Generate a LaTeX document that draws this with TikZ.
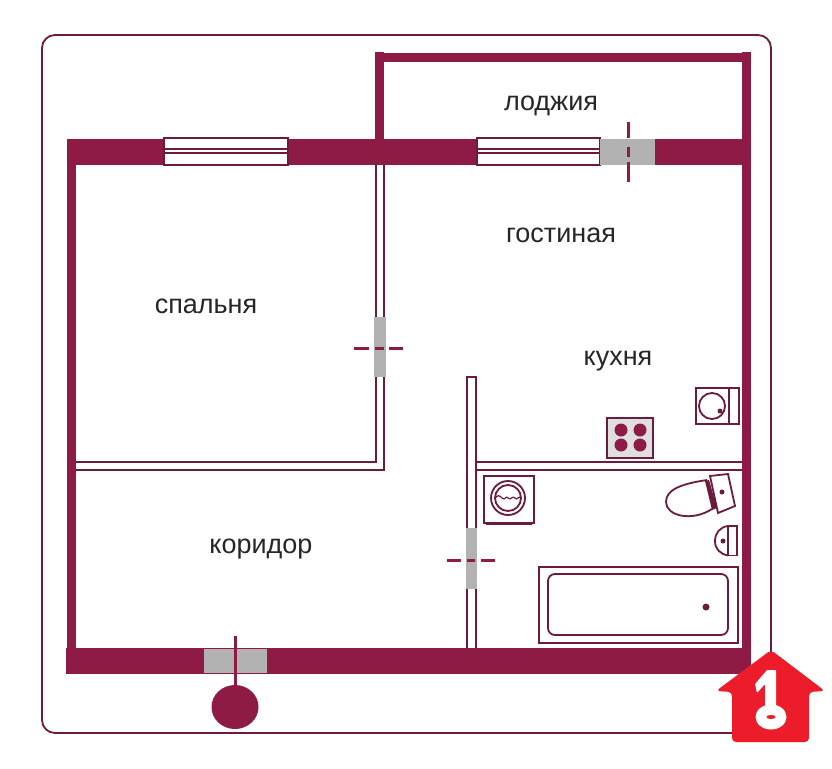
\documentclass[tikz,border=0pt]{standalone}
\usepackage{fontspec}
\setmainfont{Liberation Sans}
\usetikzlibrary{calc}
\definecolor{wallred}{HTML}{8E1B45}
\definecolor{darkline}{HTML}{6E1A3C}
\definecolor{gapgray}{HTML}{B2B2B2}
\definecolor{housered}{HTML}{EC1C2A}
\tikzset{
	wallfill/.style={fill=wallred, draw=none},
	gapfill/.style={fill=gapgray, draw=none},
	partline/.style={draw=darkline, line width=2.2pt},
	fixture/.style={draw=darkline, line width=1.8pt},
	tickline/.style={draw=wallred, line width=3pt},
	winbox/.style={draw=darkline, fill=white, line width=2.2pt},
	dotmark/.style={fill=darkline, draw=none},
	burner/.style={fill=wallred, draw=none},
	roomlabel/.style={anchor=base, font=\fontsize{27}{27}\selectfont, text=black!85, inner sep=0pt}
}
\begin{document}
\begin{tikzpicture}[x=1pt, y=-1pt]
	\useasboundingbox[fill=white] (0, 0) rectangle (832, 768);
	% outer frame
	\draw[draw=darkline, line width=1.8pt, rounded corners=13pt] (42, 35) rectangle (771, 733);
	% walls
	\fill[wallfill] (67, 139) rectangle (751, 165);
	\fill[wallfill] (67, 139) rectangle (76, 674);
	\fill[wallfill] (66, 648) rectangle (751, 674);
	\fill[wallfill] (742, 52) rectangle (751, 674);
	\fill[wallfill] (375, 53) rectangle (751, 62);
	\fill[wallfill] (375, 52) rectangle (384, 139);
	% windows
	\foreach \wx/\wy in {164/288, 477/600} {
		\draw[winbox] (\wx, 138) rectangle (\wy, 165);
		\draw[partline] (\wx, 149) -- (\wy, 149);
		\draw[partline] (\wx, 153) -- (\wy, 153);
	}
	% inner partitions
	\draw[partline] (376, 165) -- (376, 462) -- (76, 462);
	\draw[partline] (384, 165) -- (384, 470) -- (76, 470);
	\draw[partline] (476, 648) -- (476, 377) -- (467, 377) -- (467, 648);
	\draw[partline] (476, 462) -- (742, 462);
	\draw[partline] (476, 470) -- (742, 470);
	% door openings
	\fill[gapfill] (600, 139) rectangle (655, 165);
	\fill[gapfill] (204, 649) rectangle (267, 673);
	\fill[gapfill] (374, 317) rectangle (386, 377);
	\fill[gapfill] (466, 528) rectangle (477, 589);
	% door ticks
	\draw[tickline] (628, 122) -- (628, 138);
	\draw[tickline] (628, 147) -- (628, 157);
	\draw[tickline] (628, 162) -- (628, 182);
	\draw[tickline] (354, 348) -- (369, 348);
	\draw[tickline] (375, 348) -- (384, 348);
	\draw[tickline] (389, 348) -- (403, 348);
	\draw[tickline] (447, 560) -- (461, 560);
	\draw[tickline] (467, 560) -- (475, 560);
	\draw[tickline] (481, 560) -- (495, 560);
	\draw[tickline] (235, 636) -- (235, 690);
	% entrance mark
	\fill[wallfill] (235, 707) ellipse [x radius=23.5, y radius=22];
	% kitchen sink
	\draw[fixture] (696, 388) rectangle (739, 424);
	\draw[fixture] (729, 388) -- (729, 424);
	\draw[fixture] (712, 406) circle [radius=13];
	\fill[dotmark] (720, 411) circle [radius=2.5];
	% stove
	\draw[fixture, fill=gray!25] (607, 418) rectangle (653, 458);
	\foreach \bx in {621, 640} {
		\foreach \by in {430, 445} {
			\fill[burner] (\bx, \by) circle [radius=6.5];
		}
	}
	% washer
	\draw[fixture] (484, 476) rectangle (534, 523);
	\draw[fixture, line width=2.5pt] (486, 524) -- (532, 524);
	\draw[fixture] (508, 498) circle [radius=17];
	\draw[fixture] (508, 498) circle [radius=13];
	\draw[fixture, line width=1.2pt] (495, 498) .. controls (498, 495) and (499, 495) .. (502, 498) .. controls (505, 501) and (506, 495) .. (508, 498) .. controls (511, 501) and (512, 495) .. (515, 498) .. controls (517, 501) and (519, 495) .. (521, 498);
	% toilet
	\draw[fixture] (707, 480) .. controls (680, 484) and (666, 490) .. (666, 502) .. controls (666, 516) and (692, 522) .. (712, 509);
	\fill[darkline] (705, 481) -- (709, 480) -- (717, 508) -- (712, 510) -- cycle;
	\draw[fixture, fill=white] (710, 476) -- (728, 474) -- (735, 506) -- (718, 513) -- cycle;
	\fill[dotmark] (722, 492) circle [radius=2.5];
	% basin
	\draw[fixture] (728, 526) -- (737, 526) -- (737, 555.5) -- (728, 555.5);
	\draw[fixture] (728, 526) -- (728, 555.5);
	\draw[fixture] (728, 526) .. controls (720, 527) and (715, 533) .. (715, 541) .. controls (715, 549) and (720, 554) .. (728, 555.5);
	\fill[dotmark] (723, 541) circle [radius=2.5];
	% bath
	\draw[fixture] (539, 567) rectangle (738, 643);
	\draw[fixture, rounded corners=7pt] (548, 574) rectangle (728, 635);
	\fill[dotmark] (706, 607) circle [radius=3.5];
	% room names
	\node[roomlabel] (loggia) at (551, 110) {лоджия};
	\node[roomlabel] (living) at (561, 242) {гостиная};
	\node[roomlabel] (bedroom) at (206, 313) {спальня};
	\node[roomlabel] (kitchen) at (618, 365) {кухня};
	\node[roomlabel] (hall) at (261, 553) {коридор};
	% house badge
	\fill[housered, rounded corners=4pt] (771, 650) -- (825, 691) -- (809, 692) -- (809, 742) -- (732, 742) -- (732, 692) -- (716, 691) -- cycle;
	\fill[white, rounded corners=1pt] (765, 707) -- (765, 684) -- (757, 693) -- (755, 684) -- (767, 670) -- (776, 670) -- (776, 707) -- cycle;
	\fill[white] (771, 717) ellipse [x radius=15.5, y radius=12.5];
	\fill[housered] (771, 717) ellipse [x radius=4.5, y radius=2];
\end{tikzpicture}
\end{document}
